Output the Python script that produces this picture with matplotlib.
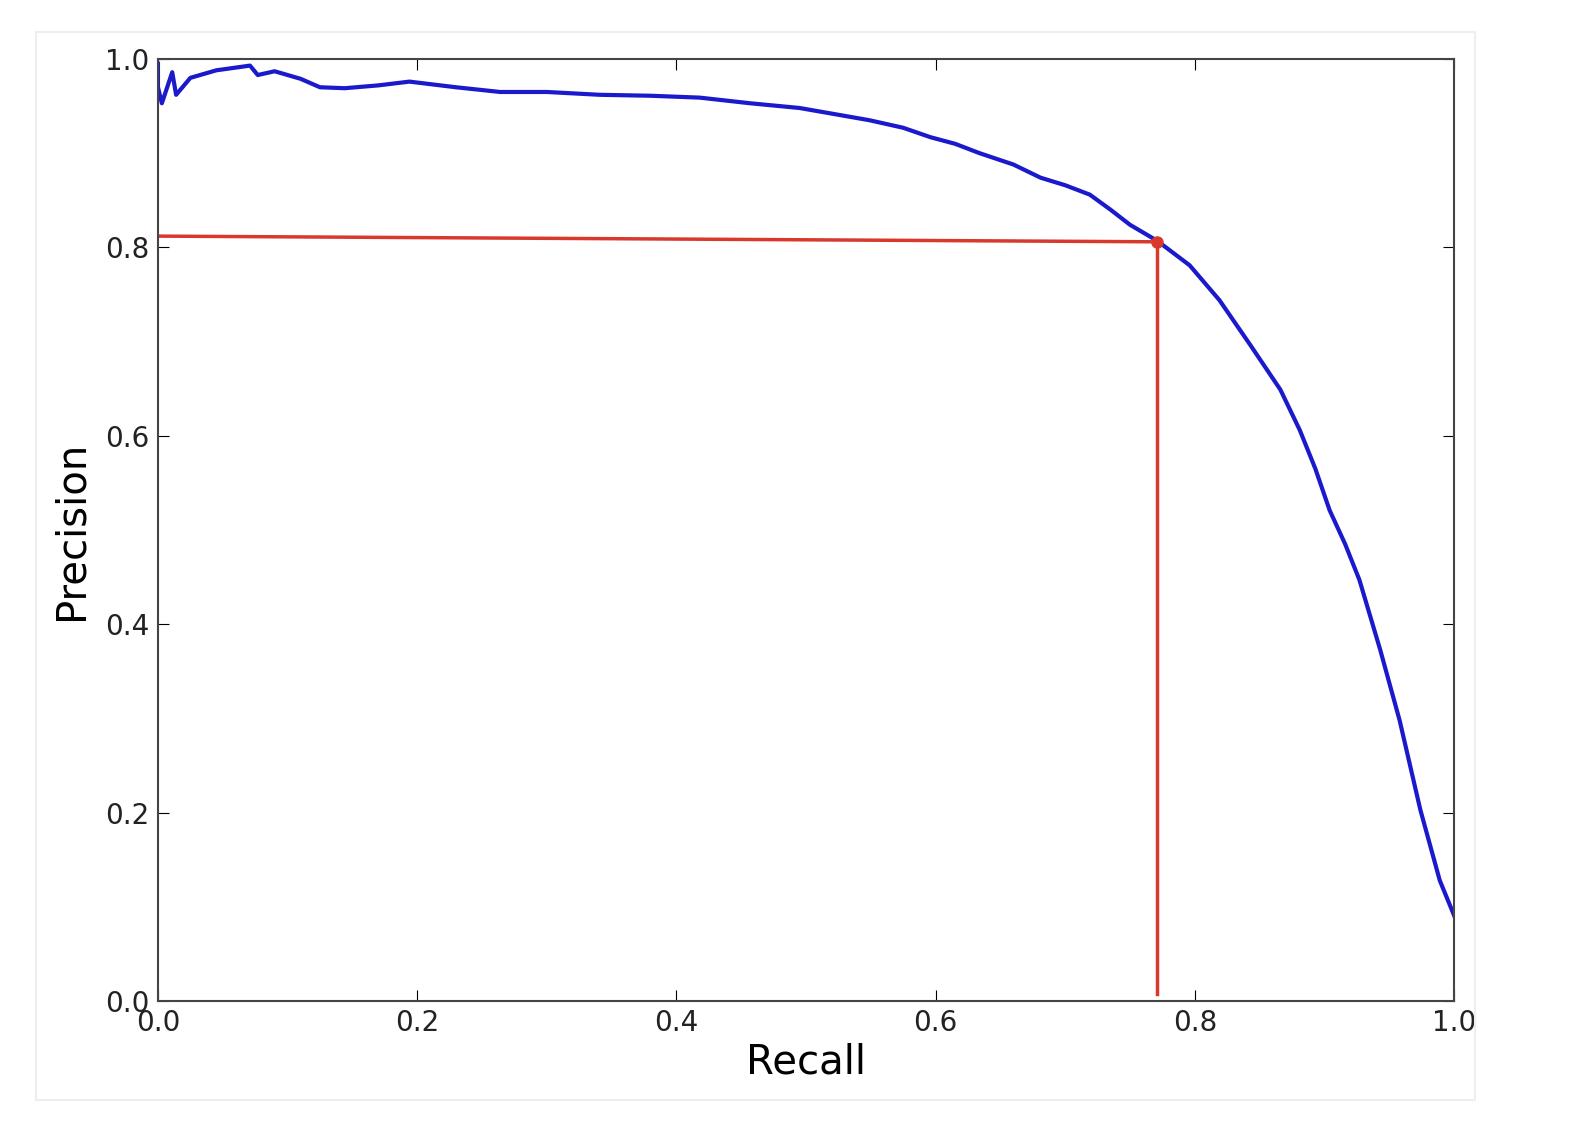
import matplotlib
matplotlib.use("Agg")
import matplotlib.pyplot as plt
from matplotlib.patches import Rectangle

# Data
recall = [0.0, 0.0, 0.003, 0.011, 0.014, 0.025, 0.045, 0.071, 0.077, 0.090, 0.110, 0.125, 0.144,
          0.170, 0.194, 0.230, 0.264, 0.300, 0.341, 0.380, 0.418, 0.457, 0.495, 0.520, 0.549,
          0.575, 0.596, 0.615, 0.634, 0.660, 0.681, 0.700, 0.719, 0.735, 0.750, 0.771, 0.796,
          0.819, 0.843, 0.866, 0.881, 0.893, 0.904, 0.916, 0.927, 0.943, 0.958, 0.974, 0.989, 1.0]
precision = [0.995, 0.97, 0.953, 0.986, 0.962, 0.980, 0.988, 0.993, 0.983, 0.987, 0.979, 0.970, 0.969,
             0.972, 0.976, 0.970, 0.965, 0.965, 0.962, 0.961, 0.959, 0.953, 0.948, 0.942, 0.935,
             0.927, 0.917, 0.910, 0.900, 0.888, 0.874, 0.866, 0.856, 0.840, 0.824, 0.807, 0.781,
             0.744, 0.696, 0.649, 0.606, 0.565, 0.521, 0.485, 0.447, 0.373, 0.298, 0.203, 0.128, 0.091]

threshold_recall = 0.7705
threshold_precision = 0.806

fig = plt.figure(figsize=(15.94, 11.48), dpi=100)
fig.patches.append(Rectangle((36 / 1594, 1 - 1100 / 1148), 1439 / 1594, 1068 / 1148,
                             transform=fig.transFigure, fill=False,
                             edgecolor="#eeeeee", linewidth=1.5))
ax = fig.add_axes([0.0991, 0.128, 0.8131, 0.8206])

ax.plot(recall, precision, color="#1a1acc", linewidth=3)
ax.plot([0, threshold_recall - 0.005], [0.812, threshold_precision], color="#d9382c", linewidth=2.5)
ax.plot([threshold_recall, threshold_recall], [threshold_precision, 0.008], color="#d9382c", linewidth=2.5)
ax.plot([threshold_recall], [threshold_precision], "o", color="#d9382c", markersize=8)

ax.set_xlim(0, 1)
ax.set_ylim(0, 1)
ax.set_xticks([0, 0.2, 0.4, 0.6, 0.8, 1.0])
ax.set_yticks([0, 0.2, 0.4, 0.6, 0.8, 1.0])
ax.tick_params(direction="in", top=True, right=True, length=8, labelsize=20,
               labelcolor="#222222", pad=6)
for s in ax.spines.values():
    s.set_color("#444444")
    s.set_linewidth(1.5)
ax.set_xlabel("Recall", fontsize=29, labelpad=4)
ax.set_ylabel("Precision", fontsize=29, labelpad=10)

fig.savefig("out.png", dpi=100)
